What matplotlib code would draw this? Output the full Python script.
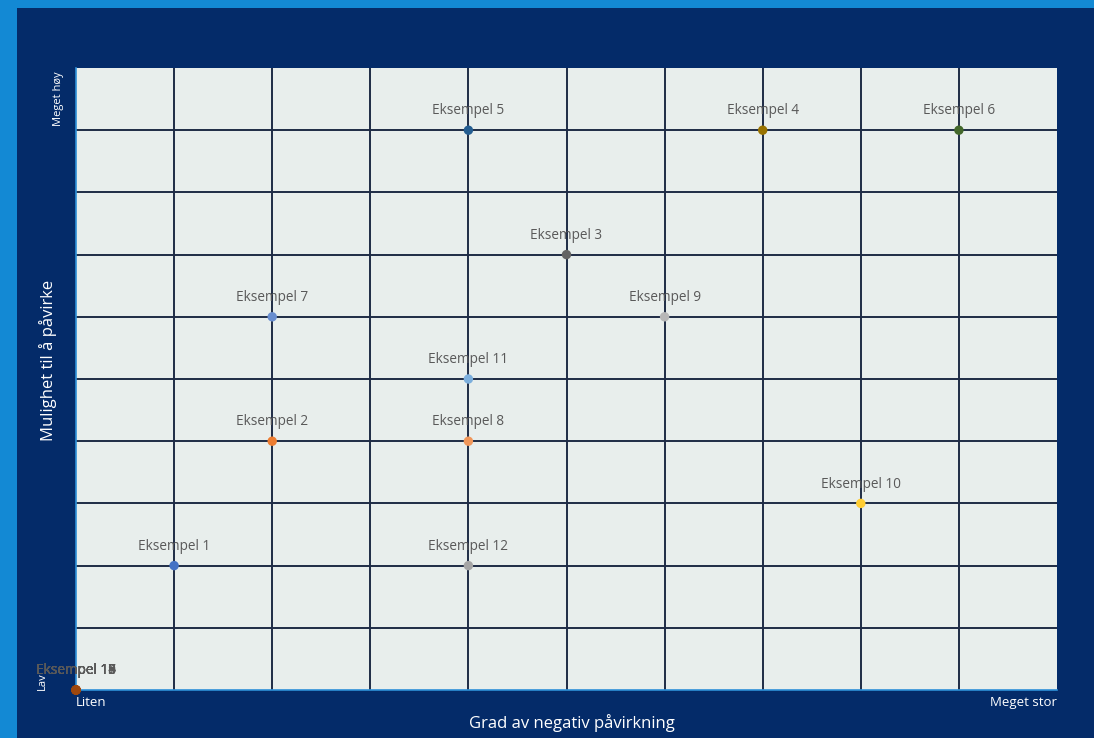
import matplotlib
matplotlib.use("Agg")
import matplotlib.pyplot as plt
from matplotlib.patches import Rectangle

names = ["Eksempel 1", "Eksempel 2", "Eksempel 3", "Eksempel 4", "Eksempel 5",
         "Eksempel 6", "Eksempel 7", "Eksempel 8", "Eksempel 9", "Eksempel 10",
         "Eksempel 11", "Eksempel 12", "Eksempel 13", "Eksempel 14", "Eksempel 15",
         "Eksempel 16", "Eksempel 17", "Eksempel 18", "Eksempel 19"]
x_vals = [1, 2, 5, 7, 4, 9, 2, 4, 6, 8, 4, 4, 0, 0, 0, 0, 0, 0, 0]
y_vals = [2, 4, 7, 9, 9, 9, 6, 4, 6, 3, 5, 2, 0, 0, 0, 0, 0, 0, 0]
colors = ["#4472C4", "#ED7D31", "#636363", "#997300", "#255E91",
          "#43682B", "#698ED0", "#F1975A", "#B7B7B7", "#FFCD33",
          "#7CAFDD", "#A5A5A5", "#9E480E", "#9E480E", "#9E480E",
          "#9E480E", "#9E480E", "#9E480E", "#9E480E"]

x_tick_labels = ["Liten", "Meget stor"]
y_tick_labels = ["Lav", "Meget høy"]
x_title = "Grad av negativ påvirkning"
y_title = "Mulighet til å påvirke"

FONT = ["Open Sans", "DejaVu Sans"]
plt.rcParams["font.family"] = FONT

NAVY = "#042B69"
LIGHTBLUE = "#1389D4"
PLOTBG = "#E8EEEC"
GRID = "#1E2B45"

fig = plt.figure(figsize=(10.94, 7.38), dpi=100)
fig.patch.set_facecolor(LIGHTBLUE)
fig.patches.append(Rectangle((17 / 1094, 0), 1 - 17 / 1094, 1 - 8 / 738,
                             transform=fig.transFigure, facecolor=NAVY,
                             edgecolor="none", zorder=-10))

ax = fig.add_axes([76 / 1094, 48 / 738, (1057 - 76) / 1094, (690 - 68) / 738])
ax.set_zorder(5)
ax.set_facecolor(PLOTBG)
ax.set_xlim(0, 10)
ax.set_ylim(0, 10)

ax.set_xticks(range(1, 10), minor=True)
ax.set_yticks(range(1, 10), minor=True)
ax.grid(which="minor", color=GRID, linewidth=1.4, zorder=1)
ax.set_axisbelow(True)
ax.tick_params(which="both", length=0)

ax.set_xticks([0, 10])
ax.set_xticklabels(x_tick_labels, color="white", fontsize=9.5)
xl = ax.get_xticklabels()
xl[0].set_ha("left")
xl[1].set_ha("right")
ax.tick_params(axis="x", pad=4)

ax.set_yticks([0, 9.5])
ax.set_yticklabels(y_tick_labels, color="white", fontsize=8, rotation=90)
yl = ax.get_yticklabels()
yl[0].set_va("bottom")
yl[1].set_va("center")
ax.tick_params(axis="y", pad=9)
ax.yaxis.get_major_ticks()[0].set_pad(20)

for side in ["top", "right"]:
    ax.spines[side].set_visible(False)
for side in ["left", "bottom"]:
    ax.spines[side].set_color("#2E90D8")
    ax.spines[side].set_linewidth(1.2)

ax.scatter(x_vals, y_vals, c=colors, s=46, zorder=3, clip_on=False, linewidths=0)

for name, xv, yv in zip(names, x_vals, y_vals):
    ax.annotate(name, (xv, yv), xytext=(0, 8.5), textcoords="offset points",
                ha="center", va="bottom", fontsize=9.8, color="#595959",
                annotation_clip=False, zorder=4)

fig.text(572 / 1094, 1 - 723 / 738, x_title, color="white", fontsize=12,
         ha="center", va="center")
fig.text(48 / 1094, 1 - 360 / 738, y_title, color="white", fontsize=12,
         ha="center", va="center", rotation=90)

fig.savefig("out.png", dpi=100, facecolor=fig.get_facecolor())
